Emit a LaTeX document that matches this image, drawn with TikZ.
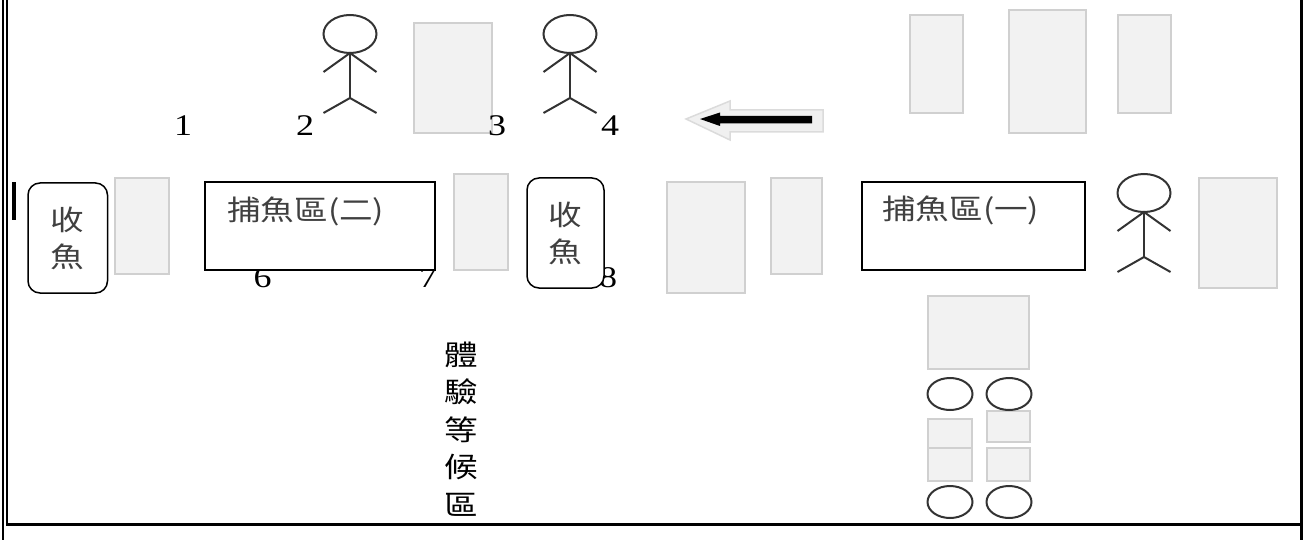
\documentclass[tikz,border=0pt]{standalone}
\usepackage{fontspec}
\newfontfamily\cjk[FakeStretch=1.2]{Noto Sans CJK TC}
\newfontfamily\chiffre[FakeStretch=1.2]{Liberation Serif}
\definecolor{fondgris}{HTML}{F2F2F2}
\definecolor{traitgris}{HTML}{D0D0D0}
\begin{document}
\begin{tikzpicture}[x=1pt, y=-1pt]
\tikzset{stall/.style={fill=fondgris, draw=traitgris, line width=2pt},
  person/.style={draw=black!80, line width=2pt},
  num/.style={font=\chiffre\fontsize{30}{30}\selectfont, inner sep=0pt},
  zone/.style={draw, fill=white, line width=1.5pt},
  zonetext/.style={font=\cjk\fontsize{28}{37}\selectfont, text=black!75, inner sep=0pt, anchor=west},
  getbox/.style={draw, fill=white, line width=1.5pt, rounded corners=12pt, minimum height=110pt, align=center, font=\cjk\fontsize{28}{37}\selectfont, text=black!75}}
\useasboundingbox (0,0) rectangle (1303,540);
\draw[line width=2pt] (3,0) -- (3,540);
\draw[line width=2.3pt] (7.2,0) -- (7.2,524);
\draw[line width=3pt] (6,524) -- (1303,524);
\draw[line width=3pt] (1301.5,0) -- (1301.5,540);
\fill (12,182) rectangle (16,220);
\draw[stall] (414,23) rectangle (492,133);
\draw[stall] (910,15) rectangle (963,113);
\draw[stall] (1009,10) rectangle (1086,133);
\draw[stall] (1118,15) rectangle (1171,113);
\draw[stall] (115,178) rectangle (169,274);
\draw[stall] (454,174) rectangle (508,270);
\draw[stall] (667,182) rectangle (745,293);
\draw[stall] (771,178) rectangle (822,274);
\draw[stall] (1199,178) rectangle (1277,288);
\draw[stall] (928,296) rectangle (1029,369);
\draw[stall] (928,419) rectangle (972,448);
\draw[stall] (928,448) rectangle (972,481);
\draw[stall] (987,411) rectangle (1030,442);
\draw[stall] (987,448) rectangle (1030,481);
\foreach \cx/\cy in {350/34, 570/34, 1144/193} {
  \draw[person] (\cx,\cy) ellipse [x radius=26.5pt, y radius=19pt];
  \draw[person] (\cx,\cy+19) -- (\cx,\cy+64);
  \draw[person] (\cx-26.5,\cy+38) -- (\cx,\cy+19) -- (\cx+26.5,\cy+38);
  \draw[person] (\cx-26.5,\cy+79) -- (\cx,\cy+64) -- (\cx+26.5,\cy+79);
}
\foreach \ex/\ey in {950/394, 1009/394, 950/502, 1009/502}
  \draw[person] (\ex,\ey) ellipse [x radius=22.5pt, y radius=16pt];
\node[num] (N1) at (183,126) {1};
\node[num] (N2) at (305,126) {2};
\node[num] (N3) at (497,126) {3};
\node[num] (N4) at (610,126) {4};
\node[num] (N6) at (262.5,277.5) {6};
\node[num] (N7) at (428,277.5) {7};
\node[num] (N8) at (608,277.5) {8};
\draw[zone] (205,182) rectangle (435,270);
\draw[zone] (862,182) rectangle (1085,270);
\node[zonetext] (Z2) at (227,211) {捕魚區(二)};
\node[zonetext] (Z1) at (882,210) {捕魚區(一)};
\node[getbox, minimum width=79.5pt] (G1) at (67.75,238) {收\\魚};
\node[getbox, minimum width=77pt] (G2) at (565.5,233) {收\\魚};
\node[font=\cjk\fontsize{28}{37.5}\selectfont, align=center, inner sep=0pt] (W) at (461,429) {體\\驗\\等\\候\\區};
\filldraw[fill=black!6, draw=black!14, line width=1.5pt] (686,119) -- (730,101) -- (730,110) -- (823,110) -- (823,132) -- (730,132) -- (730,140) -- cycle;
\fill (700,119) -- (720,112.5) -- (720,116) -- (812,116) -- (812,123.5) -- (720,123.5) -- (720,126) -- cycle;
\end{tikzpicture}
\end{document}
